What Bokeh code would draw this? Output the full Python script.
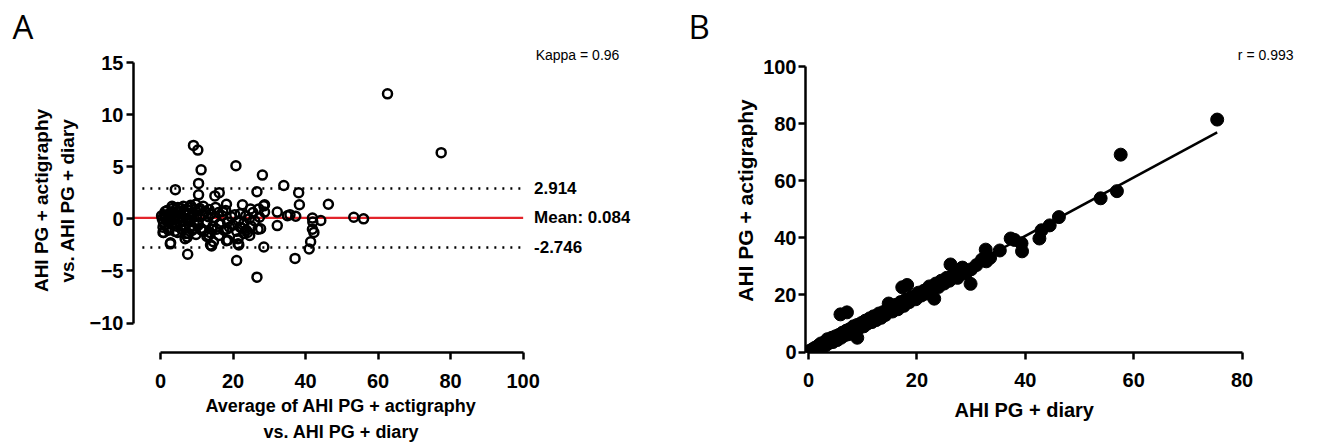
import numpy as np
from bokeh.plotting import figure
from bokeh.layouts import row
from bokeh.models import Range1d, FixedTicker, Label, Title
from bokeh.embed import file_html
from bokeh.resources import INLINE

# ---------------- Panel A data (Bland-Altman) ----------------
a_avg = [9.1, 10.3, 11.2, 20.8, 28.1, 34.0, 4.1, 10.5, 10.5, 15.0, 16.2, 18.2, 22.6, 26.6, 28.7,
         38.1, 38.3, 46.3, 53.3, 56.0, 32.2, 32.2, 35.0, 37.3, 41.9, 44.2, 41.9, 42.3, 41.4, 41.0,
         37.1, 26.6, 21.0, 28.5, 21.4, 21.4, 14.1, 14.6, 7.5, 2.7, 0.7, 6.8, 18.2, 12.8, 24.6,
         23.7, 26.9, 28.7, 27.3, 62.6, 77.4, 35.7, 42.0, 27.6, 28.5, 24.8, 27.1, 22.0, 23.0,
         13.3, 16.1, 18.6, 21.6, 13.8, 7.4, 0.9, 2.8,
         0.5, 0.8, 1.0, 1.2, 1.5, 1.8, 2.0, 2.3, 2.5, 2.8, 3.0, 3.3, 3.5, 3.8, 4.0, 4.3, 4.5, 4.8,
         5.0, 5.3, 5.5, 5.8, 6.0, 6.3, 6.5, 6.8, 7.0, 7.3, 7.5, 7.8, 8.0, 8.3, 8.5, 8.8, 9.0, 9.3,
         9.5, 9.8, 10.0, 10.4, 10.8, 11.2, 11.6, 12.0, 12.4, 12.8, 13.2, 13.6, 14.0, 14.5, 15.0,
         15.5, 16.0, 16.5, 17.0, 17.5, 18.0, 18.5, 19.0, 19.5, 20.0, 20.5, 21.0, 21.5, 22.0, 22.5,
         23.0, 23.5, 24.0, 24.5, 25.0, 25.5, 26.0,
         0.3, 0.7, 1.3, 1.7, 2.2, 2.7, 3.2, 3.7, 4.2, 4.7, 5.2, 5.7, 6.2, 6.7, 7.2, 7.7, 8.2, 8.7,
         9.2, 9.7, 10.2, 10.7, 11.3, 11.8, 12.6, 13.4, 14.2, 15.2, 16.2, 17.2, 18.3]
a_diff = [7.05, 6.6, 4.7, 5.1, 4.2, 3.2, 2.8, 3.4, 2.3, 2.2, 2.5, 1.4, 1.35, 2.6, 1.35,
          2.5, 1.35, 1.4, 0.15, 0.0, 0.65, -0.65, 0.3, 0.25, 0.07, -0.16, -1.0, -1.3, -2.2, -2.9,
          -3.8, -5.6, -4.0, -2.7, -2.4, -1.9, -2.6, -2.2, -3.4, -2.4, -1.3, -1.9, -2.1, -1.7, -1.6,
          -1.1, -1.0, 0.65, 0.16, 12.0, 6.35, 0.4, -0.3, -0.95, 1.25, 0.95, 0.95, -0.8, -1.4,
          -1.6, -1.6, -2.05, -2.5, -2.5, -1.75, -1.3, -2.3,
          0.0, -0.3, 0.4, -0.6, 0.2, 0.8, -0.2, -0.9, 0.5, 0.1, -0.5, 1.0, -0.1, 0.6, -1.2, 0.3,
          -0.7, 1.1, 0.0, -0.4, 0.7, -1.0, 0.2, 1.2, -0.6, 0.4, -1.4, 0.9, -0.2, 0.5, -0.8, 1.3,
          0.1, -1.1, 0.6, -0.3, 0.9, -1.5, 0.3, -0.6, 1.0, -0.9, 0.4, -1.2, 0.7, -0.4, 0.2, -1.3,
          0.5, -0.7, 0.1, -1.0, 0.6, -0.5, 0.3, -1.1, 0.8, -0.3, -0.8, 0.2, -0.6, 0.4, -1.2, -0.2,
          0.5, -0.9, -0.4, 0.3, -1.3, 0.0, -0.7, 0.6, -0.2,
          0.3, -0.8, 0.7, -0.2, -1.1, 0.4, 1.2, -0.5, 0.9, -1.3, 0.1, 1.0, -0.7, 0.6, -0.1, -1.4,
          1.1, 0.3, -0.9, 1.4, -0.4, 0.8, -1.1, 1.2, -0.3, 0.9, -1.0, 1.1, -0.5, 0.7, -1.0]
mean_bias = 0.084
upper_loa = 2.914
lower_loa = -2.746
kappa_text = "Kappa = 0.96"
a_xticks = [0, 20, 40, 60, 80, 100]
a_yticks = [-10, -5, 0, 5, 10, 15]

# ---------------- Panel B data (correlation) ----------------
b_diary = [0, 0.3, 0.5, 0.8, 1.0, 1.2, 1.5, 1.8, 2.0, 2.3, 2.5, 2.8, 3.0, 3.2, 3.5, 3.8, 4.0, 4.3,
           4.5, 4.8, 5.0, 5.3, 5.6, 5.9, 6.0, 6.3, 6.6, 7.0, 7.1, 7.3, 7.6, 8.0, 8.3, 8.6, 9.0,
           9.0, 9.4, 9.8, 10.2, 10.5, 10.9, 11.3, 11.7, 12.0, 12.5, 13.0, 13.4, 13.8, 14.2, 14.8,
           15.0, 15.5, 16.0, 16.5, 17.0, 17.3, 17.6, 18.2, 18.0, 18.6, 19.2, 19.8, 20.3, 20.8,
           21.3, 21.8, 22.3, 22.8, 23.2, 23.5, 24.0, 24.5, 25.0, 25.5, 26.2, 26.0, 26.8, 27.5,
           28.0, 28.4, 29.0, 29.9, 30.0, 31.0, 32.0, 32.7, 32.8, 33.5, 35.3, 37.3, 38.0, 39.3,
           39.4, 42.6, 43.0, 44.5, 46.2, 53.9, 56.9, 57.6, 75.4]
b_acti = [0, 0.5, 0.2, 1.0, 0.6, 1.5, 1.2, 2.2, 1.5, 3.0, 2.0, 2.6, 3.5, 2.4, 4.5, 3.2, 3.8, 5.0,
          3.5, 4.6, 5.5, 4.2, 6.0, 13.2, 5.0, 6.8, 5.8, 7.5, 13.9, 6.2, 8.0, 7.2, 9.0, 7.8, 5.0,
          9.5, 8.5, 10.2, 9.0, 11.0, 10.0, 11.8, 10.5, 12.5, 11.2, 13.5, 12.0, 14.0, 13.0, 17.0,
          15.0, 14.2, 16.5, 15.0, 17.5, 22.7, 16.2, 23.5, 18.5, 17.5, 19.5, 18.5, 20.8, 19.8,
          21.5, 20.5, 23.0, 21.5, 18.7, 24.0, 22.8, 25.0, 24.0, 26.0, 30.7, 25.0, 27.0, 26.0,
          28.5, 29.6, 27.5, 23.9, 29.0, 30.5, 32.4, 35.9, 31.8, 33.0, 35.6, 39.8, 39.3, 38.1,
          35.3, 39.8, 42.7, 44.4, 47.3, 53.9, 56.4, 69.2, 81.5]
r_text = "r = 0.993"
b_xticks = [0, 20, 40, 60, 80]
b_yticks = [0, 20, 40, 60, 80, 100]

FONT = "Liberation Sans"
TICK_FS = "20px"


def style_axes(p, xticks, yticks, xb, yb, x_standoff, y_standoff):
    for ax, ticks, b, so in ((p.xaxis[0], xticks, xb, x_standoff), (p.yaxis[0], yticks, yb, y_standoff)):
        ax.ticker = FixedTicker(ticks=ticks)
        ax.bounds = b
        ax.axis_line_width = 2.5
        ax.axis_line_color = "black"
        ax.major_tick_line_width = 2.5
        ax.major_tick_line_color = "black"
        ax.major_tick_out = 7
        ax.major_tick_in = 0
        ax.minor_tick_line_color = None
        ax.major_label_text_font = FONT
        ax.major_label_text_font_style = "bold"
        ax.major_label_text_font_size = TICK_FS
        ax.major_label_text_color = "black"
        ax.major_label_standoff = so
    p.xgrid.visible = False
    p.ygrid.visible = False
    p.outline_line_color = None
    p.background_fill_color = "white"
    p.border_fill_color = "white"


def add_label(p, x, y, text, size, bold=True, align="center", units="screen"):
    p.add_layout(Label(x=x, y=y, x_units=units, y_units=units, text=text,
                       text_font=FONT, text_font_size=size,
                       text_font_style="bold" if bold else "normal",
                       text_color="black", text_align=align, text_baseline="middle"))


def add_title(p, side, text, size, bold=True, align="center", offset=0, standoff=0,
              font=FONT, valign="middle"):
    p.add_layout(Title(text=text, align=align, offset=offset, standoff=standoff,
                       vertical_align=valign, text_font=font, text_font_size=size,
                       text_font_style="bold" if bold else "normal",
                       text_color="black"), side)


# frame: top at 48 px, bottom at 355 px (both panels share them in a row)
# ---------------- Panel A ----------------
ax0, ax1 = -7.44, 129.6
pa = figure(width=688, height=442, x_range=Range1d(ax0, ax1), y_range=Range1d(-12.83, 16.35),
            output_backend="svg", toolbar_location=None,
            min_border_left=133, min_border_right=58, min_border_top=48, min_border_bottom=87)
style_axes(pa, a_xticks, a_yticks, (0, 100), (-10, 15), 14, 3)

pa.segment(x0=[ax0], y0=[mean_bias], x1=[a_xticks[-1]], y1=[mean_bias],
           line_color="#e3242b", line_width=2.2)
pa.segment(x0=[-5, -5], y0=[upper_loa, lower_loa], x1=[a_xticks[-1]] * 2, y1=[upper_loa, lower_loa],
           line_color="black", line_width=2.5, line_dash="2 6")
pa.scatter(a_avg, a_diff, marker="circle", size=9, fill_color=None,
           line_color="black", line_width=2.5)

add_label(pa, 103, upper_loa, f"{upper_loa:.3f}", "17px", align="left", units="data")
add_label(pa, 103, mean_bias, f"Mean: {mean_bias:.3f}", "17px", align="left", units="data")
add_label(pa, 103, lower_loa, f"{lower_loa:.3f}", "17px", align="left", units="data")
add_label(pa, 444, 298, kappa_text, "14px", bold=False)

add_title(pa, "above", "A", "33px", bold=False, align="left", offset=-121, font="Open Sans",
          valign="bottom")
add_title(pa, "left", "vs. AHI PG + diary", "19px", standoff=15, offset=6)
add_title(pa, "left", "AHI PG + actigraphy", "19px", standoff=-9, offset=6)
add_title(pa, "below", "Average of AHI PG + actigraphy", "18px", align="left", standoff=8, offset=72)
add_title(pa, "below", "vs. AHI PG + diary", "18px", align="left", standoff=0, offset=130)

# ---------------- Panel B ----------------
pb = figure(width=620, height=442, x_range=Range1d(-0.55, 90.77), y_range=Range1d(-0.17, 106.42),
            output_backend="svg", toolbar_location=None,
            min_border_left=117, min_border_right=8, min_border_top=48, min_border_bottom=87)
style_axes(pb, b_xticks, b_yticks, (0, 80), (0, 100), 13, 2)

bx = np.array(b_diary)
by = np.array(b_acti)
slope, intercept = np.polyfit(bx, by, 1)
lx = np.array([bx.min(), bx.max()])
pb.line(lx, slope * lx + intercept, line_color="black", line_width=2.5)
pb.scatter(b_diary, b_acti, marker="circle", size=13, fill_color="black", line_color="black")

add_label(pb, 488, 298, r_text, "14px", bold=False, align="right")
add_title(pb, "above", "B", "33px", bold=False, align="left", offset=-117, font="Open Sans",
          valign="bottom")
add_title(pb, "left", "AHI PG + actigraphy", "21px", standoff=6, offset=4)
add_title(pb, "below", "AHI PG + diary", "20px", align="left", standoff=16, offset=149)

layout = row(pa, pb, spacing=0)
open("out.html", "w").write(file_html(layout, INLINE))
